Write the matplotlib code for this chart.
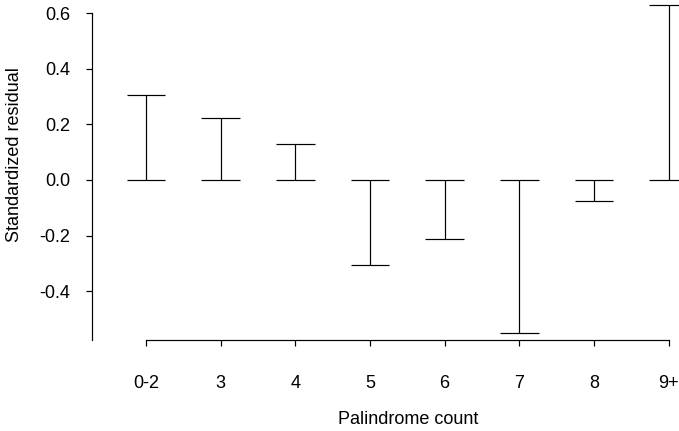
import matplotlib
matplotlib.use('Agg')
import matplotlib.pyplot as plt
import numpy as np

# palindrome count groups and their standardized residuals
categories = ['0-2', '3', '4', '5', '6', '7', '8', '9+']
residuals = [0.307, 0.224, 0.131, -0.306, -0.214, -0.553, -0.076, 0.63]
yticks = [-0.4, -0.2, 0.0, 0.2, 0.4, 0.6]

plt.rcParams['font.family'] = ['Liberation Sans', 'DejaVu Sans']
plt.rcParams['font.size'] = 13.5

W, H, dpi = 679, 431, 96
fig = plt.figure(figsize=(W / dpi, H / dpi), dpi=dpi)
ax = fig.add_axes([92 / W, (H - 340) / H, (W - 92) / W, 340 / H])

x = np.arange(1, len(categories) + 1)
cap = 0.26
lw = 0.9
ax.vlines(x, 0, residuals, color='black', lw=lw, clip_on=False)
ax.hlines(residuals, x - cap, x + cap, color='black', lw=lw, clip_on=False)
ax.hlines([0] * len(x), x - cap, x + cap, color='black', lw=lw, clip_on=False)

ax.set_xlim(1 - 54 / 74.67, 1 + 533 / 74.67)
ax.set_ylim(-160 / 277.5, 180 / 277.5)

for s in ['top', 'right']:
    ax.spines[s].set_visible(False)
ax.spines['left'].set_bounds(-160 / 277.5, 0.6)
ax.spines['bottom'].set_bounds(1, len(categories))
ax.spines['left'].set_linewidth(lw)
ax.spines['bottom'].set_linewidth(lw)

ax.set_xticks(x)
ax.set_xticklabels(categories)
ax.set_yticks(yticks)
ax.set_yticklabels([f'{v:.1f}' for v in yticks])
ax.tick_params(axis='y', length=4.5, width=lw, pad=12)
ax.tick_params(axis='x', length=4.5, width=lw, pad=22)

fig.text(408 / W, 1 - 420 / H, 'Palindrome count', ha='center', va='center')
fig.text(15 / W, 1 - 155 / H, 'Standardized residual', ha='center', va='center',
         rotation=90)

fig.savefig('out.png', dpi=dpi)
